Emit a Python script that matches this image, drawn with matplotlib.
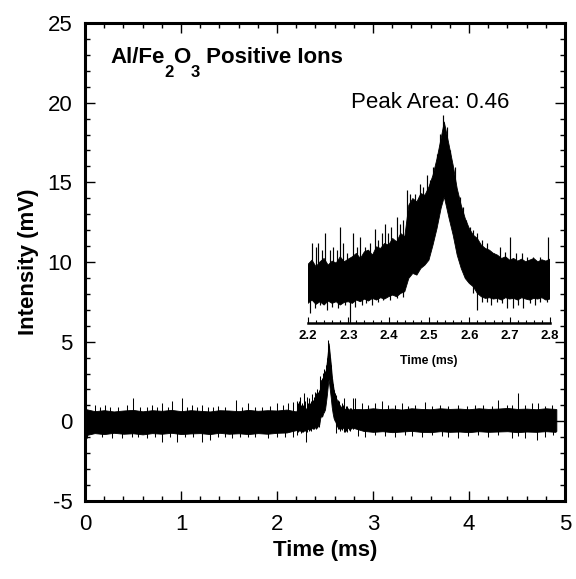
import numpy as np
import matplotlib
matplotlib.use("Agg")
import matplotlib.pyplot as plt
from matplotlib.ticker import MultipleLocator

plt.rcParams['font.family'] = ['Liberation Sans', 'DejaVu Sans']

# Dense core of the noisy ion signal: upper / lower edge (mV) versus time (ms)
t_pre = [0.0, 0.1, 0.2, 0.3, 0.4, 0.5, 0.6, 0.7, 0.8, 0.9, 1.0,
         1.1, 1.2, 1.3, 1.4, 1.5, 1.6, 1.7, 1.8, 1.9, 2.0, 2.1]
hi_pre = [0.78, 0.64, 0.70, 0.62, 0.68, 0.72, 0.63, 0.70, 0.66, 0.72, 0.64,
          0.70, 0.66, 0.62, 0.70, 0.68, 0.64, 0.72, 0.66, 0.70, 0.68, 0.74]
lo_pre = [-0.88, -0.74, -0.80, -0.72, -0.78, -0.75, -0.82, -0.74, -0.78, -0.72, -0.80,
          -0.76, -0.74, -0.80, -0.72, -0.78, -0.75, -0.80, -0.74, -0.78, -0.72, -0.70]

t_peak = [2.20, 2.21, 2.22, 2.23, 2.24, 2.25, 2.26, 2.27, 2.28, 2.29, 2.30,
          2.31, 2.32, 2.33, 2.34, 2.35, 2.36, 2.37, 2.38, 2.39, 2.40,
          2.41, 2.42, 2.43, 2.44, 2.45, 2.46, 2.47, 2.48, 2.49, 2.50,
          2.51, 2.52, 2.53, 2.538, 2.55, 2.56, 2.57, 2.58, 2.59, 2.60,
          2.61, 2.62, 2.63, 2.64, 2.65, 2.66, 2.67, 2.68, 2.69, 2.70,
          2.71, 2.72, 2.73, 2.74, 2.75, 2.76, 2.77, 2.78, 2.79, 2.80]
hi_peak = [0.62, 0.75, 0.55, 0.70, 0.80, 0.60, 0.72, 0.66, 0.85, 0.70, 0.78,
           0.85, 0.95, 0.80, 1.00, 1.05, 0.90, 1.15, 1.10, 1.25, 1.20,
           1.40, 1.30, 1.55, 1.45, 2.40, 2.60, 2.50, 2.75, 2.70, 2.95,
           3.30, 3.80, 4.40, 4.90, 4.20, 3.60, 2.90, 2.40, 2.00, 1.70,
           1.50, 1.40, 1.20, 1.10, 1.05, 0.95, 0.90, 0.80, 0.85, 0.75,
           0.80, 0.72, 0.78, 0.70, 0.75, 0.80, 0.70, 0.76, 0.72, 0.78]
lo_peak = [-0.55, -0.45, -0.58, -0.50, -0.60, -0.48, -0.55, -0.50, -0.60, -0.52, -0.50,
           -0.55, -0.45, -0.50, -0.42, -0.48, -0.40, -0.45, -0.38, -0.42, -0.35,
           -0.30, -0.35, -0.25, -0.20, 0.20, 0.35, 0.30, 0.50, 0.60, 0.75,
           1.20, 1.70, 2.30, 2.65, 2.00, 1.50, 0.90, 0.50, 0.20, 0.05,
           -0.05, -0.25, -0.35, -0.40, -0.38, -0.42, -0.40, -0.45, -0.38, -0.42,
           -0.40, -0.45, -0.38, -0.42, -0.45, -0.40, -0.42, -0.38, -0.45, -0.42]

t_post = [2.9, 3.0, 3.1, 3.2, 3.3, 3.4, 3.5, 3.6, 3.7, 3.8, 3.9,
          4.0, 4.1, 4.2, 4.3, 4.4, 4.5, 4.6, 4.7, 4.8, 4.9, 4.91]
hi_post = [0.76, 0.82, 0.76, 0.80, 0.74, 0.82, 0.78, 0.76, 0.82, 0.78, 0.80,
           0.76, 0.82, 0.78, 0.80, 0.84, 0.78, 0.80, 0.76, 0.82, 0.78, 0.76]
lo_post = [-0.60, -0.66, -0.62, -0.68, -0.64, -0.60, -0.66, -0.68, -0.62, -0.66, -0.64,
           -0.68, -0.62, -0.66, -0.64, -0.62, -0.68, -0.64, -0.66, -0.62, -0.66, -0.60]

# Isolated noise spikes on the baseline (time ms, tip value mV)
base_up_t = [0.104, 0.156, 0.208, 0.260, 0.347, 0.434, 0.503, 0.573, 0.642, 0.694,
             0.747, 0.799, 0.868, 0.910, 1.007, 1.059, 1.111, 1.163, 1.215, 1.285,
             1.337, 1.389, 1.458, 1.569, 1.632, 1.701, 1.771, 1.840, 1.927, 1.997,
             2.066, 2.118, 2.170,
             2.813, 2.882, 2.951, 3.021, 3.090, 3.160, 3.229, 3.299, 3.368, 3.438,
             3.542, 3.611, 3.698, 3.785, 3.889, 3.976, 4.063, 4.149, 4.236, 4.306,
             4.392, 4.444, 4.514, 4.583, 4.653, 4.722, 4.792, 4.861]
base_up_v = [1.03, 0.92, 1.03, 0.92, 0.92, 1.03, 1.44, 0.92, 0.92, 1.03,
             0.92, 1.13, 0.92, 1.28, 1.44, 0.92, 1.03, 0.92, 1.03, 0.92,
             0.92, 0.95, 0.92, 1.34, 0.92, 1.13, 0.92, 0.92, 0.95, 1.13,
             1.03, 1.13, 1.20,
             1.44, 1.13, 1.03, 1.13, 1.28, 1.03, 1.05, 1.13, 0.98, 1.03,
             1.23, 0.98, 1.05, 0.98, 1.03, 0.98, 1.05, 1.03, 0.98, 1.34,
             1.03, 1.05, 1.76, 1.03, 1.13, 1.13, 0.98, 1.03]
base_dn_t = [0.017, 0.174, 0.278, 0.382, 0.486, 0.556, 0.642, 0.729, 0.799, 0.885,
             0.955, 1.042, 1.128, 1.215, 1.302, 1.389, 1.458, 1.528, 1.615, 1.701,
             1.771, 1.910, 1.997, 2.083, 2.170,
             2.847, 2.917, 3.021, 3.125, 3.229, 3.333, 3.403, 3.507, 3.611, 3.715,
             3.785, 3.889, 3.993, 4.097, 4.201, 4.306, 4.444, 4.514, 4.583, 4.705,
             4.792, 4.878]
base_dn_v = [-1.07, -0.97, -1.07, -1.03, -0.97, -1.00, -1.07, -0.97, -1.28, -1.00,
             -1.28, -0.97, -1.00, -1.28, -1.20, -0.97, -1.00, -1.07, -0.97, -1.00,
             -0.97, -1.07, -0.97, -1.00, -0.97,
             -0.90, -0.97, -0.86, -0.90, -0.97, -0.86, -0.90, -0.97, -0.86, -0.90,
             -0.97, -1.03, -0.90, -0.86, -0.97, -0.86, -1.07, -0.90, -1.07, -1.17,
             -0.97, -0.86]

# Spikes across the peak region (time ms, tip value mV)
peak_up_t = [2.209, 2.220, 2.226, 2.234, 2.242, 2.255, 2.263, 2.271, 2.279, 2.288,
             2.296, 2.312, 2.321, 2.329, 2.341, 2.354, 2.366, 2.374, 2.383, 2.391,
             2.399, 2.407, 2.420, 2.428, 2.436, 2.445, 2.453, 2.465, 2.478, 2.486,
             2.494, 2.502, 2.511, 2.519, 2.527, 2.536, 2.544, 2.552, 2.564, 2.577,
             2.585, 2.593, 2.602, 2.610, 2.618, 2.631, 2.643, 2.660, 2.676, 2.688,
             2.701, 2.717, 2.730, 2.742, 2.759, 2.775, 2.796]
peak_up_v = [1.25, 1.15, 1.25, 1.05, 1.55, 1.05, 1.15, 1.05, 1.75, 1.25,
             0.95, 1.55, 1.15, 1.45, 1.15, 1.25, 1.70, 1.35, 1.55, 1.85,
             1.55, 1.75, 2.05, 1.85, 1.95, 2.85, 2.75, 2.75, 3.05, 2.95,
             3.30, 3.15, 3.55, 3.95, 4.55, 5.10, 4.75, 4.05, 3.55, 2.65,
             2.35, 1.95, 1.75, 1.65, 1.55, 1.35, 1.25, 0.95, 1.15, 1.00,
             1.45, 0.95, 0.95, 0.85, 0.85, 0.85, 1.45]
peak_dn_t = [2.205, 2.217, 2.230, 2.246, 2.259, 2.275, 2.292, 2.304, 2.317, 2.333,
             2.345, 2.358, 2.374, 2.387, 2.403, 2.420, 2.436,
             2.610, 2.618, 2.631, 2.643, 2.655, 2.668, 2.680, 2.693, 2.709, 2.721,
             2.734, 2.750, 2.763, 2.775, 2.792]
peak_dn_v = [-0.85, -0.70, -0.60, -0.75, -0.65, -0.70, -0.60, -1.30, -0.65, -0.60,
             -0.55, -0.60, -0.50, -0.45, -0.45, -0.40, -0.35,
             -0.25, -0.75, -0.50, -0.50, -0.60, -0.50, -0.55, -0.70, -0.70, -0.60,
             -0.70, -0.55, -0.60, -0.50, -0.50]

x_ticks = [0, 1, 2, 3, 4, 5]
y_ticks = [-5, 0, 5, 10, 15, 20, 25]
inset_ticks = [2.2, 2.3, 2.4, 2.5, 2.6, 2.7, 2.8]
peak_area = 0.46

t_env = np.array(t_pre + t_peak + t_post)
hi_env = np.array(hi_pre + hi_peak + hi_post)
lo_env = np.array(lo_pre + lo_peak + lo_post)
mid_env = 0.5 * (hi_env + lo_env)
up_t = np.array(base_up_t + peak_up_t)
up_v = np.array(base_up_v + peak_up_v)
dn_t = np.array(base_dn_t + peak_dn_t)
dn_v = np.array(base_dn_v + peak_dn_v)


def draw_trace(ax, lw):
    ax.fill_between(t_env, lo_env, hi_env, color='black', lw=0.6)
    ax.vlines(up_t, np.interp(up_t, t_env, mid_env), up_v, color='black', lw=lw)
    ax.vlines(dn_t, np.interp(dn_t, t_env, mid_env), dn_v, color='black', lw=lw)


fig = plt.figure(figsize=(5.76, 5.79), dpi=100)
ax = fig.add_axes([0.1476, 0.1347, 0.8333, 0.8256])
draw_trace(ax, 0.75)

ax.set_xlim(0, 5)
ax.set_ylim(-5, 25)
ax.set_xticks(x_ticks)
ax.set_yticks(y_ticks)
ax.set_xticklabels([str(v) for v in x_ticks])
ax.set_yticklabels([str(v) for v in y_ticks])
ax.xaxis.set_minor_locator(MultipleLocator(0.2))
ax.yaxis.set_minor_locator(MultipleLocator(1))
ax.tick_params(which='both', direction='in', top=True, right=True, width=1.0,
               labelsize=16)
ax.tick_params(which='major', length=7, pad=9)
ax.tick_params(which='minor', length=3.5)
for sp in ax.spines.values():
    sp.set_linewidth(2.2)

ax.set_xlabel('Time (ms)', fontsize=16, fontweight='bold', labelpad=4)
ax.set_ylabel('Intensity (mV)', fontsize=16, fontweight='bold', labelpad=6)

# Sample label with dropped subscripts, built piece by piece
title_kw = dict(fontsize=16, fontweight='bold')
sub_kw = dict(fontsize=12, fontweight='bold')
p1 = ax.text(0.26, 22.5, 'Al/Fe', ha='left', va='baseline', **title_kw)
p2 = ax.annotate('2', xy=(1, 0), xycoords=p1, xytext=(0, 2),
                 textcoords='offset points', ha='left', va='top', **sub_kw)
p3 = ax.annotate('O', xy=(1, 0), xycoords=(p2, p1), ha='left', va='bottom',
                 **title_kw)
p4 = ax.annotate('3', xy=(1, 0), xycoords=p3, xytext=(0, 2),
                 textcoords='offset points', ha='left', va='top', **sub_kw)
ax.annotate(' Positive Ions', xy=(1, 0), xycoords=(p4, p1), ha='left',
            va='bottom', **title_kw)

ax.text(3.60, 19.67, f'Peak Area: {peak_area:.2f}', fontsize=16,
        ha='center', va='baseline')

# Zoomed view of the peak
axi = fig.add_axes([0.5347, 0.4421, 0.4201, 0.3765])
axi.patch.set_alpha(0)
draw_trace(axi, 0.85)
axi.set_xlim(2.2, 2.8)
axi.set_ylim(-1.14, 5.41)
axi.set_yticks([])
axi.set_xticks(inset_ticks)
axi.set_xticklabels([f'{v:.1f}' for v in inset_ticks], fontweight='bold')
axi.xaxis.set_minor_locator(MultipleLocator(0.02))
for side in ('top', 'left', 'right'):
    axi.spines[side].set_visible(False)
axi.spines['bottom'].set_linewidth(1.8)
axi.tick_params(axis='x', which='both', direction='in', width=0.8, labelsize=9.5)
axi.tick_params(axis='x', which='major', length=4, pad=5)
axi.tick_params(axis='x', which='minor', length=2.5)
axi.set_xlabel('Time (ms)', fontsize=8.8, fontweight='bold', labelpad=9.5)

fig.savefig('out.png', dpi=100)
